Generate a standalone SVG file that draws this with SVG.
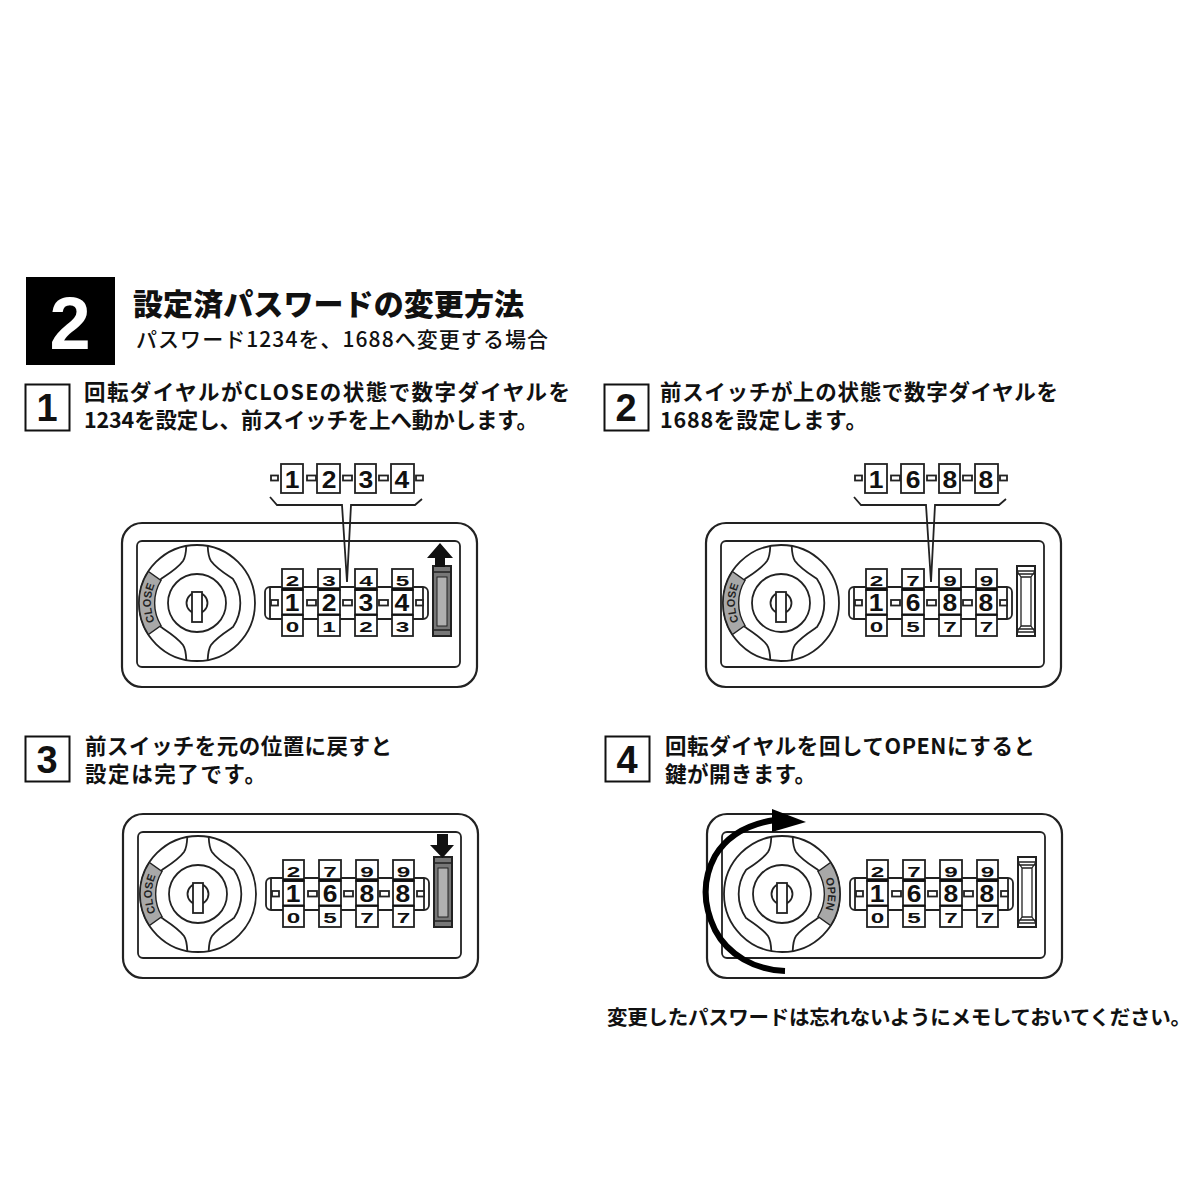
<svg xmlns="http://www.w3.org/2000/svg" width="1200" height="1200" viewBox="0 0 1200 1200">
<style>
text{font-family:"Noto Sans CJK JP","Liberation Sans",sans-serif;font-weight:700;fill:#111}
.t{font-size:21.500px}
.n{font-family:"Liberation Sans",Arial,sans-serif;text-anchor:middle}
.big{font-size:23px}
.sm{font-size:18px}
.lab{font-family:"Liberation Sans",Arial,sans-serif;font-size:11px;fill:#222}
.l{fill:none;stroke:#222;stroke-width:1.800}
.w{fill:#fff;stroke:#222;stroke-width:1.800}
.g{fill:#a8a8a8;stroke:#222;stroke-width:1.400}
.bl{fill:#111}
</style>
<defs>
<path id="arcL" d="M161.800,632.600 A46 46 0 0 1 161.800,573.400"/>
<path id="arcR" d="M232.200,573.400 A46 46 0 0 1 232.200,632.600"/>
<g id="tabs">
<rect x="271" y="475.500" width="7" height="5"/><rect x="307" y="475.500" width="9" height="5"/><rect x="343" y="475.500" width="9" height="5"/><rect x="379" y="475.500" width="9" height="5"/><rect x="416" y="475.500" width="7" height="5"/>
</g>
<g id="strip">
<use href="#tabs" class="w"/>
<rect class="w" x="281" y="464" width="22" height="29"/><rect class="w" x="317" y="464" width="23" height="29"/><rect class="w" x="355" y="464" width="21" height="29"/><rect class="w" x="391" y="464" width="23" height="29"/>
<path class="l" d="M270,497 L277,505 H342 L347,582 L351,505 H415 L422,499"/>
</g>
<g id="body">
<rect class="l" x="122" y="523" width="355" height="164" rx="20" style="stroke-width:2.200"/>
<rect class="l" x="137" y="541" width="323" height="126" rx="5"/>
<circle class="l" cx="197" cy="603" r="58"/>
<path class="l" d="M186.300,546 C186,553 185,558 183,561 C178,568 170,573 161,579 A43 43 0 0 0 161,627 C170,633 178,638 183,645 C185,648 186,653 186.300,660"/>
<path class="l" d="M207.700,546 C208,553 209,558 211,561 C216,568 224,573 233,579 A43 43 0 0 1 233,627 C224,633 216,638 211,645 C209,648 208,653 207.700,660"/>
<circle class="l" cx="197" cy="603" r="29"/>
<circle class="l" cx="197" cy="603" r="10.500"/>
<rect class="w" x="192" y="592" width="10" height="30"/>
<rect class="w" x="265" y="587" width="163" height="32" rx="5"/>
<path class="l" d="M270,588 V618 M423,588 V618"/>
<g class="w">
<rect x="282" y="569" width="21" height="21"/><rect x="318" y="569" width="22" height="21"/><rect x="355" y="569" width="22" height="21"/><rect x="392" y="569" width="21" height="21"/>
<rect x="282" y="590" width="21" height="25"/><rect x="318" y="590" width="22" height="25"/><rect x="355" y="590" width="22" height="25"/><rect x="392" y="590" width="21" height="25"/>
<rect x="282" y="615" width="21" height="21"/><rect x="318" y="615" width="22" height="21"/><rect x="355" y="615" width="22" height="21"/><rect x="392" y="615" width="21" height="21"/>
</g>
<path stroke="#111" stroke-width="3.500" d="M282,589 H303 M318,589 H340 M355,589 H377 M392,589 H413"/>
<path stroke="#111" stroke-width="2.200" d="M282,614.500 H303 M318,614.500 H340 M355,614.500 H377 M392,614.500 H413"/>
<g class="w">
<rect x="271" y="600" width="7" height="5.500"/><rect x="307" y="600" width="9" height="5.500"/><rect x="343" y="600" width="9" height="5.500"/><rect x="379" y="600" width="9" height="5.500"/><rect x="416" y="600" width="7" height="5.500"/>
</g>
</g>
<g id="sectorL"><path class="g" d="M148.400,571.400 A58 58 0 0 0 148.400,634.600 L161,625.500 A43 43 0 0 1 161,580.500 Z"/></g>
<g id="sectorR"><path class="g" d="M245.600,571.400 A58 58 0 0 1 245.600,634.600 L233,625.500 A43 43 0 0 0 233,580.500 Z"/></g>
<g id="slider">
<rect x="433" y="566" width="18" height="70" fill="#fff" stroke="#222" stroke-width="2"/>
<path d="M433,571 H451 M433,574 H451 M437,577 H447 M437,577 V626 M447,577 V626 M437,626 H447 M433,629 H451 M433,632 H451 M433,571 L437,577 M451,571 L447,577 M433,632 L437,626 M451,632 L447,626" stroke="#222" stroke-width="1.300" fill="none"/>
</g>
<g id="sliderG">
<rect x="433" y="566" width="18" height="70" fill="#777" stroke="#222" stroke-width="2"/>
<rect x="437" y="577" width="10" height="49" fill="#b0b0b0" stroke="#222"/>
<path d="M433,572 H451 M433,630 H451" stroke="#222" stroke-width="1.300"/>
</g>
</defs>

<g id="header">
<rect x="26" y="277" width="89" height="88" fill="#000"/>
<text x="70" y="349" class="n" font-size="74" style="fill:#fff">2</text>
<text x="133" y="315" font-size="30" textLength="391" style="font-weight:900">設定済パスワードの変更方法</text>
<text x="136" y="347" font-size="21" textLength="412" style="font-weight:500">パスワード1234を、1688へ変更する場合</text>
</g>

<g id="step1">
<rect x="25.500" y="384.500" width="44" height="46" fill="#fff" stroke="#111" stroke-width="2"/>
<text x="47" y="421" class="n" font-size="38">1</text>
<text x="84" y="400" class="t" textLength="486">回転ダイヤルがCLOSEの状態で数字ダイヤルを</text>
<text x="84" y="428" class="t" textLength="454">1234を設定し、前スイッチを上へ動かします。</text>
</g>
<g id="step2">
<rect x="604.500" y="384.500" width="44" height="46" fill="#fff" stroke="#111" stroke-width="2"/>
<text x="626" y="421" class="n" font-size="38">2</text>
<text x="660" y="400" class="t" textLength="398">前スイッチが上の状態で数字ダイヤルを</text>
<text x="660" y="428" class="t" textLength="207">1688を設定します。</text>
</g>
<g id="step3">
<rect x="25.500" y="736.500" width="44" height="45" fill="#fff" stroke="#111" stroke-width="2"/>
<text x="47" y="773" class="n" font-size="38">3</text>
<text x="85" y="754" class="t" textLength="307">前スイッチを元の位置に戻すと</text>
<text x="85" y="782" class="t" textLength="181">設定は完了です。</text>
</g>
<g id="step4">
<rect x="605.500" y="736.500" width="44" height="45" fill="#fff" stroke="#111" stroke-width="2"/>
<text x="627" y="773" class="n" font-size="38">4</text>
<text x="665" y="754" class="t" textLength="370">回転ダイヤルを回してOPENにすると</text>
<text x="665" y="782" class="t" textLength="151">鍵が開きます。</text>
</g>

<g id="lock1">
<use href="#strip"/><use href="#body"/><use href="#sectorL"/>
<text class="lab"><textPath href="#arcL" startOffset="50%" text-anchor="middle">CLOSE</textPath></text>
<use href="#sliderG"/>
<path class="bl" d="M440,543 L453,558 H445 V567 H435 V558 H427 Z"/>
<g transform="translate(292,488) scale(1.15,1)"><text class="n big" x="0 32.200 64.300 95.600">1234</text></g>
<g transform="translate(292,611) scale(1.15,1)"><text class="n big" x="0 32.200 64.300 95.600">1234</text></g>
<g transform="translate(292.500,586) scale(1.35,.85)"><text class="n sm" x="0 27 54.400 81.500">2345</text></g>
<g transform="translate(292.500,632) scale(1.35,.85)"><text class="n sm" x="0 27 54.400 81.500">0123</text></g>
</g>

<g id="lock2" transform="translate(584,0)">
<use href="#strip"/><use href="#body"/><use href="#sectorL"/>
<text class="lab"><textPath href="#arcL" startOffset="50%" text-anchor="middle">CLOSE</textPath></text>
<use href="#slider"/>
<g transform="translate(292,488) scale(1.15,1)"><text class="n big" x="0 32.200 64.300 95.600">1688</text></g>
<g transform="translate(292,611) scale(1.15,1)"><text class="n big" x="0 32.200 64.300 95.600">1688</text></g>
<g transform="translate(292.500,586) scale(1.35,.85)"><text class="n sm" x="0 27 54.400 81.500">2799</text></g>
<g transform="translate(292.500,632) scale(1.35,.85)"><text class="n sm" x="0 27 54.400 81.500">0577</text></g>
</g>

<g id="lock3" transform="translate(1,291)">
<use href="#body"/><use href="#sectorL"/>
<text class="lab"><textPath href="#arcL" startOffset="50%" text-anchor="middle">CLOSE</textPath></text>
<use href="#sliderG"/>
<path class="bl" d="M436,543 H447 V554 H453 L441.500,567 L429,554 H436 Z"/>
<g transform="translate(292,611) scale(1.15,1)"><text class="n big" x="0 32.200 64.300 95.600">1688</text></g>
<g transform="translate(292.500,586) scale(1.35,.85)"><text class="n sm" x="0 27 54.400 81.500">2799</text></g>
<g transform="translate(292.500,632) scale(1.35,.85)"><text class="n sm" x="0 27 54.400 81.500">0577</text></g>
</g>

<g id="lock4" transform="translate(585,291)">
<use href="#body"/><use href="#sectorR"/>
<text class="lab"><textPath href="#arcR" startOffset="50%" text-anchor="middle">OPEN</textPath></text>
<use href="#slider"/>
<g transform="translate(292,611) scale(1.15,1)"><text class="n big" x="0 32.200 64.300 95.600">1688</text></g>
<g transform="translate(292.500,586) scale(1.35,.85)"><text class="n sm" x="0 27 54.400 81.500">2799</text></g>
<g transform="translate(292.500,632) scale(1.35,.85)"><text class="n sm" x="0 27 54.400 81.500">0577</text></g>
</g>

<g id="connectors">
<path d="M785,971 C755,970 728,955 715,930 C703,905 702,880 715,856 C727,836 748,824 775,820" fill="none" stroke="#000" stroke-width="6"/>
<path d="M772,809 L806,822 L772,832 Z" fill="#000"/>
</g>

<g id="footer">
<text x="607" y="1025" class="t" textLength="584" style="font-size:20.500px">変更したパスワードは忘れないようにメモしておいてください。</text>
</g>
</svg>
